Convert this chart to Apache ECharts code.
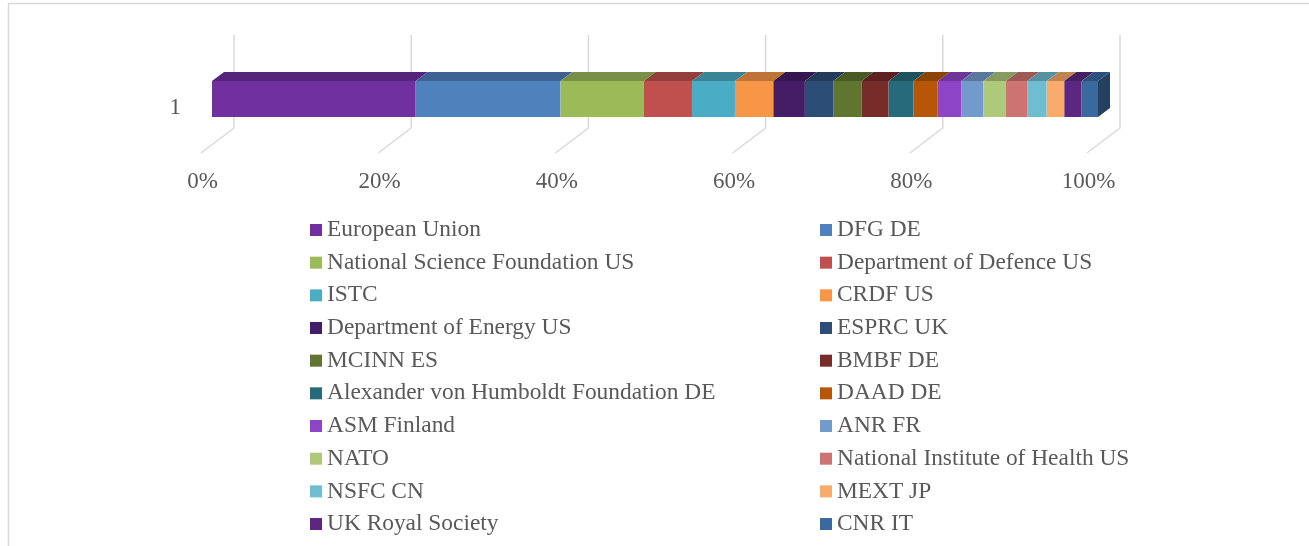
<!DOCTYPE html>
<html>
<head>
<meta charset="utf-8">
<script src="https://cdn.jsdelivr.net/npm/echarts@6/dist/echarts.min.js"></script>
<style>
html,body{margin:0;padding:0;background:#fff;}
#chart{width:1309px;height:546px;}
</style>
</head>
<body>
<div id="chart"></div>
<script>
// ---- data ----
const categories = ['1'];
const funders = [
  'European Union', 'DFG DE', 'National Science Foundation US', 'Department of Defence US',
  'ISTC', 'CRDF US', 'Department of Energy US', 'ESPRC UK', 'MCINN ES', 'BMBF DE',
  'Alexander von Humboldt Foundation DE', 'DAAD DE', 'ASM Finland', 'ANR FR', 'NATO',
  'National Institute of Health US', 'NSFC CN', 'MEXT JP', 'UK Royal Society', 'CNR IT'
];
const shares = [23.0, 16.35, 9.4, 5.45, 4.85, 4.35, 3.55, 3.2, 3.2, 3.05,
                2.8, 2.75, 2.65, 2.5, 2.55, 2.4, 2.2, 2.0, 1.95, 1.85];
const colors = ['#7030A0', '#4F81BD', '#9BBB59', '#C0504D', '#4BACC6', '#F79646',
                '#451C66', '#2C4D75', '#5F7530', '#772C2A', '#276A7C', '#B65708',
                '#8D45C5', '#729ACA', '#AFC97A', '#CD7371', '#6FBDD1', '#F9AB6B',
                '#5B2781', '#3A699E'];
const tickValues = [0, 20, 40, 60, 80, 100];

// ---- helpers ----
function shade(hex, f) {
  const n = parseInt(hex.slice(1), 16);
  const r = Math.round(((n >> 16) & 255) * f);
  const g = Math.round(((n >> 8) & 255) * f);
  const b = Math.round((n & 255) * f);
  return 'rgb(' + r + ',' + g + ',' + b + ')';
}
const total = shares.reduce((a, b) => a + b, 0);
const pct = shares.map(v => v / total * 100);
const DX = 12, DY = 9;
const FONT = 'Liberation Serif';
const TXT = '#595959';

let acc = 0;
const barSeries = funders.map((name, i) => {
  const start = acc;
  acc += pct[i];
  const end = acc;
  const isLast = i === funders.length - 1;
  return {
    name: name,
    type: 'custom',
    coordinateSystem: 'cartesian2d',
    z: 5,
    itemStyle: { color: colors[i] },
    data: [[start, end, 0]],
    renderItem: function (params, api) {
      const p0 = api.coord([api.value(0), api.value(2)]);
      const p1 = api.coord([api.value(1), api.value(2)]);
      const band = api.size([0, 1])[1];
      const h = band / 3;
      const yT = p0[1] - h / 2, yB = p0[1] + h / 2;
      const x0 = p0[0], x1 = p1[0];
      const children = [
        { type: 'polygon', shape: { points: [[x0, yT], [x1, yT], [x1 + DX, yT - DY], [x0 + DX, yT - DY]] },
          style: { fill: shade(colors[i], 0.77) } },
        { type: 'rect', shape: { x: x0, y: yT, width: x1 - x0, height: h },
          style: { fill: colors[i] } }
      ];
      if (isLast) {
        children.push({ type: 'polygon', shape: { points: [[x1, yT], [x1 + DX, yT - DY], [x1 + DX, yB - DY], [x1, yB]] },
          style: { fill: shade(colors[i], 0.62) } });
      }
      return { type: 'group', children: children };
    }
  };
});

const gridSeries = {
  name: 'grid',
  type: 'custom',
  coordinateSystem: 'cartesian2d',
  z: 1,
  silent: true,
  legendHoverLink: false,
  data: tickValues.map(v => [v, 0]),
  renderItem: function (params, api) {
    const cs = params.coordSys;
    const cx = api.coord([api.value(0), 0])[0];
    const top = cs.y - 10, bottom = cs.y + cs.height;
    return {
      type: 'polyline',
      shape: { points: [[cx + 22, top], [cx + 22, bottom - 25], [cx - 11, bottom]] },
      style: { stroke: '#d9d9d9', lineWidth: 1.5, fill: 'none' }
    };
  }
};

const leftNames = funders.filter((_, i) => i % 2 === 0);
const rightNames = funders.filter((_, i) => i % 2 === 1);
const legendCommon = {
  orient: 'vertical',
  top: 213,
  icon: 'rect',
  itemWidth: 12,
  itemHeight: 12,
  itemGap: 8.67,
  selectedMode: false,
  textStyle: { fontFamily: FONT, fontSize: 23.4, color: TXT, lineHeight: 24 }
};

const chart = echarts.init(document.getElementById('chart'));
chart.setOption({
  backgroundColor: '#ffffff',
  animation: false,
  graphic: [{
    type: 'rect', silent: true,
    shape: { x: 8.5, y: 3.5, width: 1320, height: 600 },
    style: { fill: 'none', stroke: '#d9d9d9', lineWidth: 1.5 }
  }],
  grid: { left: 212, right: 211, top: 45, height: 108 },
  xAxis: {
    type: 'value', min: 0, max: 100, interval: 20,
    axisLine: { show: false }, axisTick: { show: false }, splitLine: { show: false },
    axisLabel: { formatter: '{value}%', fontFamily: FONT, fontSize: 23, color: TXT, margin: 17, padding: [0, 19, 0, 0] }
  },
  yAxis: {
    type: 'category', data: categories,
    axisLine: { show: false }, axisTick: { show: false },
    axisLabel: { fontFamily: FONT, fontSize: 23, color: TXT, margin: 31, verticalAlign: 'top', lineHeight: 17 }
  },
  legend: [
    Object.assign({}, legendCommon, { left: 305, data: leftNames }),
    Object.assign({}, legendCommon, { left: 815, data: rightNames })
  ],
  series: [gridSeries].concat(barSeries)
});
</script>
</body>
</html>
